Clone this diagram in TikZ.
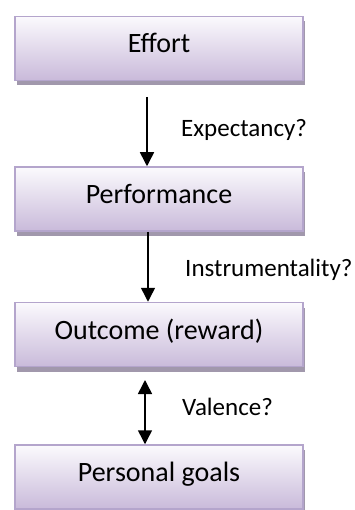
\documentclass[tikz,border=0pt]{standalone}
\usepackage{fontspec}
\setmainfont{Carlito}
\usetikzlibrary{arrows.meta,shadows}
\definecolor{boxline}{HTML}{B4A5CC}
\definecolor{boxtop}{HTML}{FBFAFD}
\definecolor{boxbot}{HTML}{C9BADA}
\definecolor{shadowc}{HTML}{A198AC}
\tikzset{
  stagebox/.style={draw=boxline, line width=1.5pt, top color=boxtop, bottom color=boxbot,
    minimum width=288pt, minimum height=64pt, inner sep=0pt,
    text height=18pt, text depth=9pt,
    font=\fontsize{28}{32}\selectfont,
    drop shadow={shadow xshift=2pt, shadow yshift=-5pt, fill=shadowc, opacity=1}},
  linklabel/.style={anchor=west, inner sep=0pt, font=\fontsize{25}{30}\selectfont},
  linkarrow/.style={line width=1.5pt, -{Triangle[width=14pt,length=14pt]}},
  botharrow/.style={line width=1.5pt, {Triangle[width=14pt,length=14pt]}-{Triangle[width=14pt,length=14pt]}}
}
\begin{document}
\begin{tikzpicture}[x=1pt,y=-1pt]
\useasboundingbox (0,0) rectangle (355,510);
\node[stagebox] (effort) at (159,48.5) {Effort};
\node[stagebox] (perf) at (159,199) {Performance};
\node[stagebox] (outcome) at (159,334.5) {Outcome (reward)};
\node[stagebox] (goals) at (159,477) {Personal goals};
\coordinate (a1start) at (147,97);
\draw[linkarrow] (a1start) -- (a1start |- perf.north);
\draw[linkarrow] (148,0 |- perf.south) -- (148,0 |- outcome.north);
\coordinate (a3start) at (145,380);
\draw[botharrow] (a3start) -- (a3start |- goals.north);
\node[linklabel] (exp) at (181,130) {Expectancy?};
\node[linklabel] (instr) at (185,270) {Instrumentality?};
\node[linklabel] (val) at (182,407) {Valence?};
\end{tikzpicture}
\end{document}
